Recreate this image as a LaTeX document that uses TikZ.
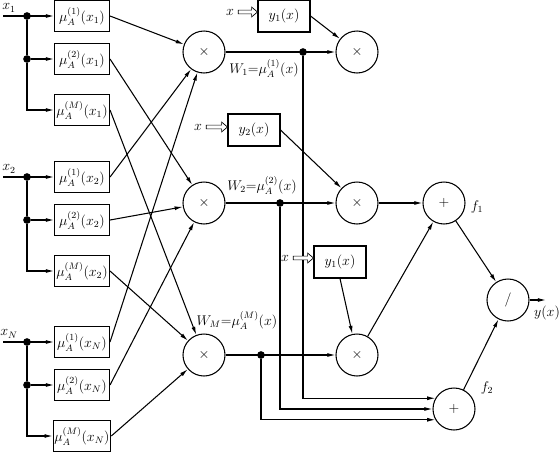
\documentclass[tikz,border=0pt]{standalone}
\usepackage{amsfonts, amsmath}
\usepackage{tikz}
\usetikzlibrary{arrows.meta, calc}

\begin{document}
\begin{tikzpicture}[x = .3mm, y = -.3mm, font = \large, line width = .9pt,
  >={Latex[length = 7pt, width = 3.4pt]},
  mubox/.style = {draw, minimum width = 16.5mm, minimum height = 9.3mm, inner sep = 1pt},
  ybox/.style = {draw, minimum width = 15.6mm, minimum height = 9.6mm, inner sep = 1pt},
  op/.style = {draw, circle, minimum size = 12.6mm, inner sep = 0pt},
  dot/.style = {circle, fill, inner sep = 0pt, minimum size = 2.3mm},
  hollow/.style = {draw, fill = white, line width = .6pt,
    to path = {let \p1 = (\tikztostart), \p2 = (\tikztotarget) in
      (\x1, \y1 + 1.6pt) -- (\x2 - 5pt, \y1 + 1.6pt) -- (\x2 - 5pt, \y1 + 4.2pt)
      -- (\x2, \y1) -- (\x2 - 5pt, \y1 - 4.2pt) -- (\x2 - 5pt, \y1 - 1.6pt)
      -- (\x1, \y1 - 1.6pt) -- cycle}}]
  \useasboundingbox (0, 0) rectangle (560, 454);
  % membership functions
  \foreach \i/\y in {1/16, 2/177, N/342}
  {
  \node at (9, {\y - 8}) (x\i) {$x_{\i}$};
  \coordinate (e\i) at (3, \y);
  \node[dot] at (27, \y) (a\i) {};
  \node[dot] at (27, {\y + 43}) (b\i) {};
  \node[mubox] at (82, \y) (1\i) {$\mu_A^{(1)}(x_{\i})$};
  \node[mubox] at (82, {\y + 43}) (2\i) {$\mu_A^{(2)}(x_{\i})$};
  \node[mubox] at (82, {\y + 94}) (M\i) {$\mu_A^{(M)}(x_{\i})$};
  \draw[->] (e\i) -- (1\i);
  \draw (a\i) -- (b\i);
  \draw[->] (b\i) -- (2\i);
  \draw[->] (b\i) |- (M\i);
  }
  \node[op] at (204, 52) (p1) {$\times$};
  \node[op] at (204, 203) (p2) {$\times$};
  \node[op] at (204, 355) (p3) {$\times$};
  \foreach \j/\p in {1/p1, 2/p2, M/p3}
  {
  \foreach \i in {1, 2, N}
  {
  \draw[->] (\j\i.east) -- (\p);
  }
  }
  % rule outputs
  \node[op] at (357, 52) (q1) {$\times$};
  \node[op] at (357, 203) (q2) {$\times$};
  \node[op] at (357, 355) (q3) {$\times$};
  \node[ybox] at (284, 16) (ya) {$y_1(x)$};
  \node[ybox] at (254, 130) (yb) {$y_2(x)$};
  \node[ybox] at (340, 262) (yc) {$y_1(x)$};
  \node[dot] at (303, 52) (w1) {};
  \node[dot] at (280, 203) (w2) {};
  \node[dot] at (261, 355) (wM) {};
  \node at (264, 68) (W1) {$W_1{=}\mu_A^{(1)}(x)$};
  \node at (262, 185) (W2) {$W_2{=}\mu_A^{(2)}(x)$};
  \node at (237, 320) (WM) {$W_M{=}\mu_A^{(M)}(x)$};
  \node[op] at (444, 203) (f1) {$+$};
  \node[op] at (454, 409) (f2) {$+$};
  \node[op] at (508, 300) (g) {$/$};
  \node at (477, 207) (F1) {$f_1$};
  \node at (487, 388) (F2) {$f_2$};
  \coordinate (out) at (546, 300);
  \node at (547, 313) (Y) {$y(x)$};
  \draw[->] (p1) -- (q1);
  \draw[->] (p2) -- (q2);
  \draw[->] (p3) -- (q3);
  \draw[->] (ya.east) -- (q1);
  \draw[->] (yb.east) -- (q2);
  \draw[->] (yc.south) -- (q3);
  \draw[->] (w1) |- (f2.150);
  \draw[->] (w2) |- (f2);
  \draw[->] (wM) |- (f2.210);
  \draw[->] (q2) -- (f1);
  \draw[->] (q3) -- (f1);
  \draw[->] (f1) -- (g);
  \draw[->] (f2) -- (g);
  \draw[->] (g) -- (out);
  % crisp inputs of the consequents
  \node at (230, 12) (xa) {$x$};
  \node at (198, 127) (xb) {$x$};
  \node at (285, 258) (xc) {$x$};
  \path[hollow] (xa.east) to (xa.east -| ya.west);
  \path[hollow] (xb.east) to (xb.east -| yb.west);
  \path[hollow] (xc.east) to (xc.east -| yc.west);
\end{tikzpicture}
\end{document}
